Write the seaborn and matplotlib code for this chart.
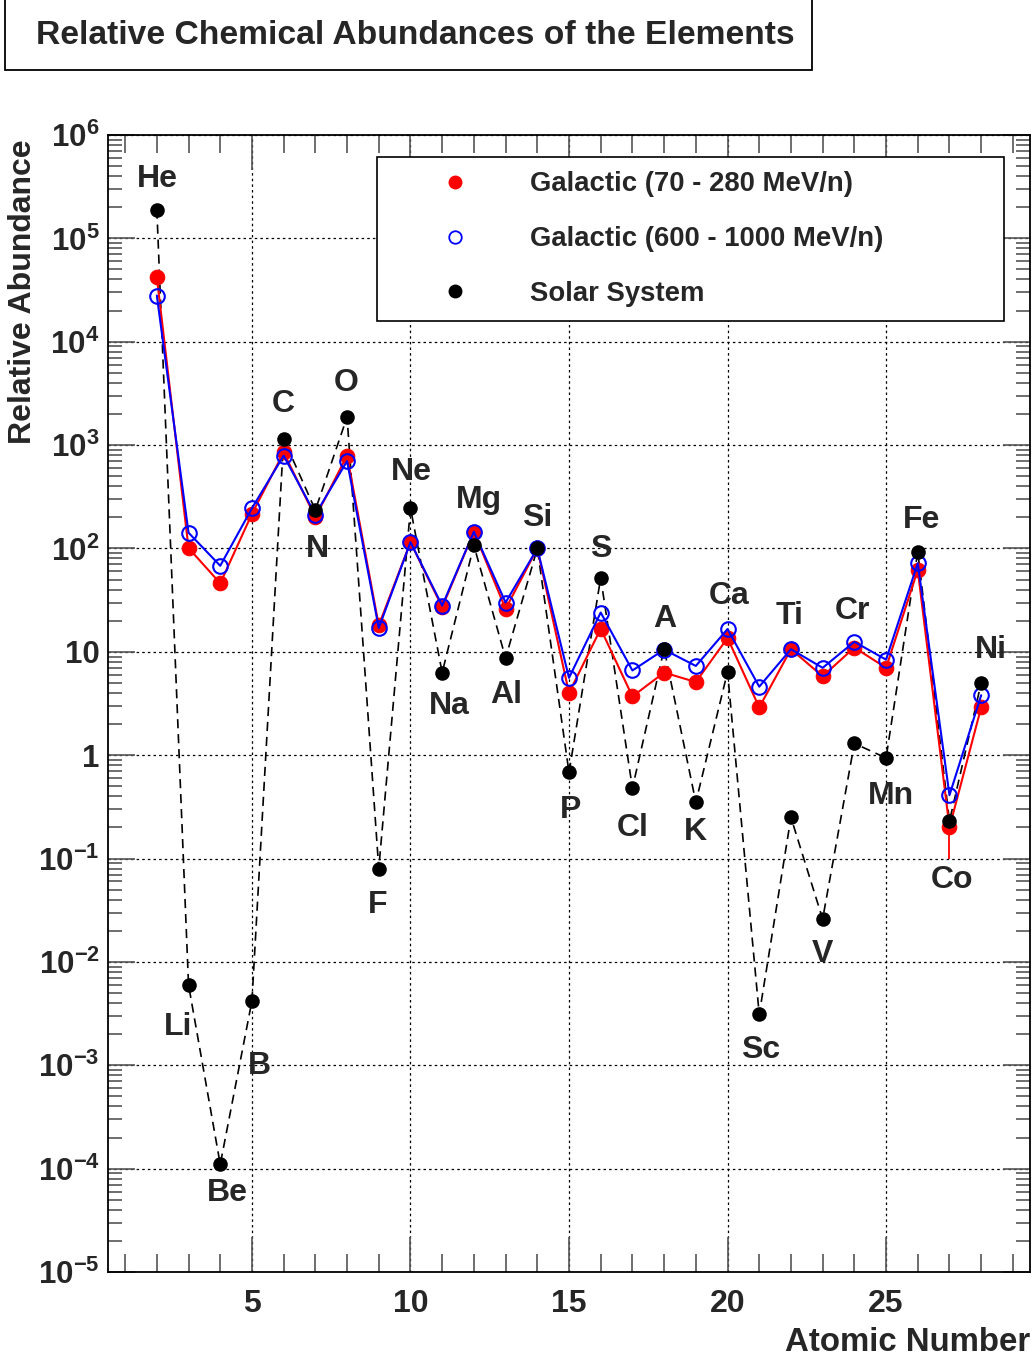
import matplotlib
matplotlib.use("Agg")
import matplotlib.pyplot as plt
import seaborn as sns
from matplotlib.lines import Line2D
from matplotlib.patches import Rectangle
from matplotlib.ticker import LogLocator, MultipleLocator, NullFormatter, FixedLocator, FixedFormatter

# ---------------- data ----------------
Z = list(range(2, 29))
elements = ['He', 'Li', 'Be', 'B', 'C', 'N', 'O', 'F', 'Ne', 'Na', 'Mg', 'Al', 'Si', 'P',
            'S', 'Cl', 'A', 'K', 'Ca', 'Sc', 'Ti', 'V', 'Cr', 'Mn', 'Fe', 'Co', 'Ni']
galactic_low = [4.2e4, 101, 46, 216, 850, 200, 790, 18, 115, 27, 145, 26, 100, 4.0,
                16.7, 3.7, 6.3, 5.1, 13.6, 2.9, 10.6, 5.8, 11, 7.0, 62, 0.20, 2.9]
galactic_high = [2.8e4, 142, 68, 245, 790, 213, 700, 17, 115, 28, 145, 30, 100, 5.6,
                 24, 6.6, 10.5, 7.3, 16.6, 4.6, 10.6, 7.0, 12.5, 8.4, 72, 0.41, 3.8]
solar = [1.9e5, 6e-3, 1.1e-4, 4.2e-3, 1150, 235, 1870, 0.08, 245, 6.3, 107, 8.7, 100, 0.68,
         52, 0.48, 10.7, 0.35, 6.4, 3.1e-3, 0.25, 0.026, 1.3, 0.94, 93, 0.23, 5.0]
# lower end of the error bar on the low-energy galactic Co point
co_err_Z = [27]
co_err_low = [0.1]
co_err_val = [0.20]

legend_labels = ['Galactic (70 - 280 MeV/n)', 'Galactic (600 - 1000 MeV/n)', 'Solar System']
title = 'Relative Chemical Abundances of the Elements'
xlabel = 'Atomic Number'
ylabel = 'Relative Abundance'
ytick_vals = [1e-5, 1e-4, 1e-3, 1e-2, 1e-1, 1, 10, 1e2, 1e3, 1e4, 1e5, 1e6]
ytick_labels = [r'$10^{-5}$', r'$10^{-4}$', r'$10^{-3}$', r'$10^{-2}$', r'$10^{-1}$', '1', '10',
                r'$10^{2}$', r'$10^{3}$', r'$10^{4}$', r'$10^{5}$', r'$10^{6}$']
xtick_vals = [5, 10, 15, 20, 25]

# label offsets from the solar point (pixels, image-down positive)
label_offsets = [(1, -31), (-10, 42), (7, 29), (7, 65), (0, -35), (2, 39), (-1, -34), (-1, 36),
                 (1, -36), (7, 33), (5, -45), (1, 37), (0, -30), (2, 38), (0, -29), (0, 40),
                 (1, -30), (0, 30), (2, -76), (1, 36), (-1, -201), (0, 35), (-2, -132), (5, 38),
                 (4, -32), (3, 59), (10, -33)]

# ---------------- style ----------------
sns.set_style("white")
FONT = ['Liberation Sans', 'DejaVu Sans']
plt.rcParams['font.family'] = FONT
plt.rcParams['font.weight'] = 'bold'
plt.rcParams['mathtext.fontset'] = 'custom'
plt.rcParams['mathtext.rm'] = 'Liberation Sans:bold'
plt.rcParams['mathtext.it'] = 'Liberation Sans:bold'
plt.rcParams['mathtext.bf'] = 'Liberation Sans:bold'

W, H = 1032, 1357
fig = plt.figure(figsize=(W / 100, H / 100), dpi=100)
L, R, T, B = 108, 1030, 135, 1272
ax = fig.add_axes([L / W, 1 - B / H, (R - L) / W, (B - T) / H])

# solar system (dashed)
sns.lineplot(x=Z, y=solar, ax=ax, color='black', linewidth=1.2, linestyle='--',
             marker=None, zorder=2, sort=False)
ax.lines[-1].set_dashes((5.5, 3.5))
# galactic low energy (red)
sns.lineplot(x=Z, y=galactic_low, ax=ax, color='red', linewidth=1.5, marker='o',
             markersize=10.5, markeredgecolor='red', markerfacecolor='red', zorder=3, sort=False)
ax.vlines(co_err_Z, co_err_low, co_err_val, color='red', linewidth=1.3, zorder=3)
# galactic high energy (blue open)
sns.lineplot(x=Z, y=galactic_high, ax=ax, color='blue', linewidth=1.5, marker='o',
             markersize=10.5, markeredgecolor='blue', markerfacecolor='none',
             markeredgewidth=1.5, zorder=4, sort=False)
# solar markers
sns.scatterplot(x=Z, y=solar, ax=ax, color='black', s=110, edgecolor='black',
                linewidth=0, zorder=5)

ax.set_yscale('log')
ax.set_xlim(0.46, 29.54)
ax.set_ylim(1e-5, 1e6)

ax.yaxis.set_major_locator(FixedLocator(ytick_vals))
ax.yaxis.set_major_formatter(FixedFormatter(ytick_labels))
ax.yaxis.set_minor_locator(LogLocator(base=10, subs=range(2, 10), numticks=100))
ax.yaxis.set_minor_formatter(NullFormatter())
ax.xaxis.set_major_locator(FixedLocator(xtick_vals))
ax.xaxis.set_minor_locator(MultipleLocator(1))

ax.grid(True, which='major', color='black', linestyle=(0, (2, 2.5)), linewidth=0.9, zorder=1)
ax.set_axisbelow(True)

tick_col = '#555555'
ax.tick_params(axis='x', which='major', direction='in', length=25, width=1.2, color=tick_col,
               top=True, bottom=True, labelsize=23, pad=12)
ax.tick_params(axis='x', which='minor', direction='in', length=13, width=1.2, color=tick_col,
               top=True, bottom=True)
ax.tick_params(axis='y', which='major', direction='in', length=19.5, width=1.2, color=tick_col,
               left=True, right=True, labelsize=22.5, pad=6)
ax.tick_params(axis='y', which='minor', direction='in', length=10, width=1.2, color=tick_col,
               left=True, right=True)
for lab in ax.get_xticklabels() + ax.get_yticklabels():
    lab.set_fontweight('bold')

for s in ax.spines.values():
    s.set_color('black')
    s.set_linewidth(1.3)

# element labels
for z, name, v, (dx, dy) in zip(Z, elements, solar, label_offsets):
    ax.annotate(name, xy=(z, v), xytext=(dx, -dy), textcoords='offset pixels',
                ha='center', va='center', fontsize=23, fontweight='bold', zorder=6)

# axis titles
ax.set_xlabel(xlabel, fontsize=23.8, fontweight='bold', loc='right')
ax.xaxis.set_label_coords(1.0, -0.048)
ax.xaxis.label.set_va('top')
ax.set_ylabel(ylabel, fontsize=23, fontweight='bold', loc='top')
ax.yaxis.set_label_coords(-0.076, 0.996)

# legend
handles = [Line2D([], [], linestyle='none', marker='o', markersize=9, color='red'),
           Line2D([], [], linestyle='none', marker='o', markersize=9, markerfacecolor='none',
                  markeredgecolor='blue', markeredgewidth=1.3),
           Line2D([], [], linestyle='none', marker='o', markersize=9, color='black')]
lx0, lx1, ly0, ly1 = 377, 1004, 157, 322
leg = ax.legend(handles, legend_labels,
                bbox_to_anchor=((lx0 - L) / (R - L), (B - ly1) / (B - T),
                                 (lx1 - lx0) / (R - L), (ly1 - ly0) / (B - T)),
                loc='upper left', mode='expand', borderaxespad=0,
                prop={'weight': 'bold', 'size': 19.8, 'family': FONT},
                frameon=True, fancybox=False, framealpha=1, edgecolor='black',
                handlelength=4.6, handletextpad=0.45, labelspacing=1.05, borderpad=0.52)
leg.get_frame().set_linewidth(1.2)
leg.set_zorder(10)

# title box
fig.patches.append(Rectangle((5 / W, 1 - 70 / H), 807 / W, 72 / H, transform=fig.transFigure,
                             facecolor='white', edgecolor='black', linewidth=1.3))
fig.text(415 / W, 1 - 35 / H, title, ha='center', va='center', fontsize=24.2,
         fontweight='bold')

fig.savefig('out.png', dpi=100)
